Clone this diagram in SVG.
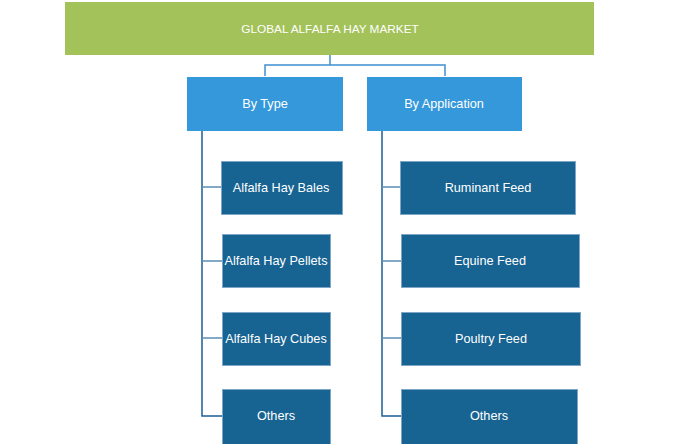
<svg xmlns="http://www.w3.org/2000/svg" width="700" height="444" viewBox="0 0 700 444">
<style>
.t{font-family:"Liberation Sans",Arial,sans-serif;font-size:12.7px;fill:#ffffff;text-anchor:middle;dominant-baseline:central}
.tt{font-size:11.8px}
.root{fill:#A3C259}
.cat{fill:#3498DA}
.leaf{fill:#176392;stroke:#7FA6C6;stroke-width:1}
.ln{fill:none;stroke:#1D5E96;stroke-width:1.5}
.lt{fill:none;stroke:#3F8FD0;stroke-width:1.5}
.st{fill:none;stroke:#5B8DB8;stroke-width:1.5}
</style>
<rect width="700" height="444" fill="#ffffff"/>
<g id="connectors">
<path class="lt" d="M330,55 V65 M265,76 V65 H445 V76"/>
<path class="ln" d="M202,131 V416 H222"/>
<path class="st" d="M202,187 H221 M202,261 H222 M202,338 H222"/>
<path class="ln" d="M382,131 V416 H401"/>
<path class="st" d="M382,187 H400 M382,261 H401 M382,338 H401"/>
</g>
<g id="root"><rect class="root" x="65" y="2" width="529" height="53"/><text class="t tt" x="330" y="29">GLOBAL ALFALFA HAY MARKET</text></g>
<g id="by-type"><rect class="cat" x="187" y="77" width="156" height="54"/><text class="t" x="265" y="104">By Type</text></g>
<g id="by-application"><rect class="cat" x="367" y="77" width="155" height="54"/><text class="t" x="444" y="104">By Application</text></g>
<g id="bales"><rect class="leaf" x="221.5" y="161.5" width="121" height="53"/><text class="t" x="281" y="188">Alfalfa Hay Bales</text></g>
<g id="pellets"><rect class="leaf" x="222.5" y="234.5" width="108" height="53"/><text class="t" x="276" y="261">Alfalfa Hay Pellets</text></g>
<g id="cubes"><rect class="leaf" x="222.5" y="312.5" width="108" height="53"/><text class="t" x="276" y="339">Alfalfa Hay Cubes</text></g>
<g id="others-type"><rect class="leaf" x="222.5" y="389.5" width="108" height="56"/><text class="t" x="276" y="416">Others</text></g>
<g id="ruminant"><rect class="leaf" x="400.5" y="161.5" width="175" height="53"/><text class="t" x="488" y="188">Ruminant Feed</text></g>
<g id="equine"><rect class="leaf" x="401.5" y="234.5" width="178" height="53"/><text class="t" x="490" y="261">Equine Feed</text></g>
<g id="poultry"><rect class="leaf" x="401.5" y="312.5" width="179" height="53"/><text class="t" x="491" y="339">Poultry Feed</text></g>
<g id="others-app"><rect class="leaf" x="401.5" y="389.5" width="176" height="56"/><text class="t" x="489" y="416">Others</text></g>
</svg>
